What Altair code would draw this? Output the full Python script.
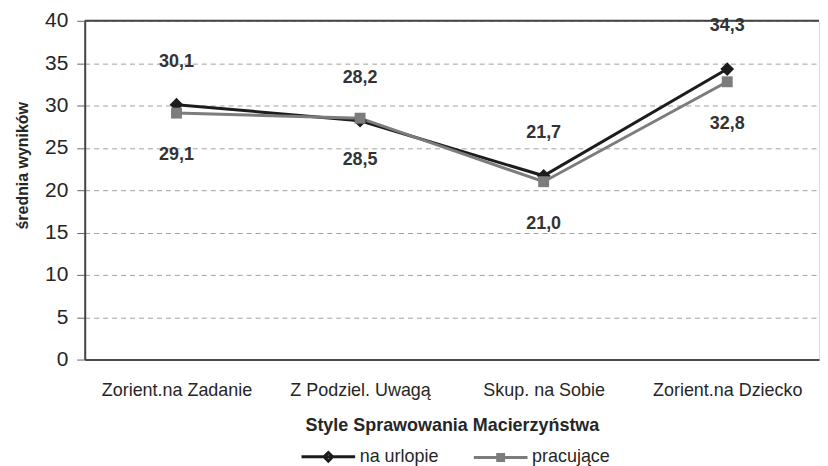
import altair as alt
import pandas as pd

categories = ["Zorient.na Zadanie", "Z Podziel. Uwagą", "Skup. na Sobie", "Zorient.na Dziecko"]
series_names = ["na urlopie", "pracujące"]
na_urlopie = [30.1, 28.2, 21.7, 34.3]
pracujace = [29.1, 28.5, 21.0, 32.8]
y_ticks = [0, 5, 10, 15, 20, 25, 30, 35, 40]

rows = []
for i, c in enumerate(categories):
    rows.append({"cat": c, "series": series_names[0], "v": na_urlopie[i]})
    rows.append({"cat": c, "series": series_names[1], "v": pracujace[i]})
df = pd.DataFrame(rows)

FONT = "Liberation Sans"
colors = ["#1c1c1c", "#7c7c7c"]

x_enc = alt.X("cat:N", sort=categories, scale=alt.Scale(domain=categories, paddingOuter=0.5),
              axis=alt.Axis(title="Style Sprawowania Macierzyństwa", labelAngle=0,
                            labelFont=FONT, labelFontSize=18, labelColor="#262626",
                            titleFont=FONT, titleFontSize=18, titleFontWeight="bold",
                            titleColor="#262626", titlePadding=17, labelPadding=22,
                            ticks=False, domainColor="#4a4a4a", domainWidth=2, grid=False))
y_enc = alt.Y("v:Q", scale=alt.Scale(domain=[0, 40], nice=False),
              axis=alt.Axis(title="średnia wyników", values=y_ticks, labelFont=FONT,
                            labelFontSize=21, labelColor="#262626", titleFont=FONT,
                            titleFontSize=16, titleFontWeight="bold", titleColor="#262626",
                            titlePadding=14, titleY=145, tickSize=8, tickColor="#666", labelPadding=9,
                            domainColor="#444", domainWidth=2, grid=True,
                            gridDash=[5, 4], gridColor="#a0a0a0", gridWidth=1))

base = alt.Chart(df)

layers = []
top_rule = alt.Chart(pd.DataFrame({"t": [40]})).mark_rule(color="#444", strokeWidth=2).encode(
    y=alt.Y("t:Q", scale=alt.Scale(domain=[0, 40], nice=False))
)
layers.append(top_rule)

shapes = ["diamond", "square"]
sizes = [190, 120]
for name, col in zip(series_names, colors):
    sub = base.transform_filter(alt.datum.series == name)
    layers.append(sub.mark_line(strokeWidth=3, color=col).encode(x=x_enc, y=y_enc))
for name, col, shp, sz in zip(series_names, colors, shapes, sizes):
    sub = base.transform_filter(alt.datum.series == name)
    layers.append(sub.mark_point(filled=True, opacity=1, shape=shp, size=sz, color=col).encode(x=x_enc, y=y_enc))

lab_expr = "replace(format(datum.v, '.1f'), '.', ',')"
offsets = [-43, 42]
for name, dy in zip(series_names, offsets):
    sub = base.transform_filter(alt.datum.series == name).transform_calculate(lab=lab_expr)
    layers.append(sub.mark_text(font=FONT, fontSize=18, fontWeight="bold", color="#333", dy=dy).encode(
        x=x_enc, y=y_enc, text="lab:N"))

legend_paths = [
    "M-1,0H1M0,-0.16L0.16,0L0,0.16L-0.16,0Z",
    "M-1,0H1M-0.11,-0.11H0.11V0.11H-0.11Z",
]
legend_layer = base.transform_filter("false").mark_point(filled=False, strokeWidth=3, opacity=1).encode(
    x=x_enc, y=y_enc,
    shape=alt.Shape("series:N", scale=alt.Scale(domain=series_names, range=legend_paths),
                    legend=alt.Legend(title=None, orient="none", direction="horizontal",
                                      legendX=216, legendY=409,
                                      labelFont=FONT, labelFontSize=18, labelColor="#262626",
                                      symbolSize=2900, symbolStrokeWidth=3, columnPadding=28,
                                      labelOffset=3)),
    color=alt.Color("series:N", scale=alt.Scale(domain=series_names, range=colors)),
)
layers.append(legend_layer)

chart = alt.layer(*layers).properties(
    width=737, height=340, padding={"left": 6, "top": 1, "right": 0, "bottom": 0}
).configure_view(stroke=None).configure(background="white")

chart.save("out.html", embed_options={"renderer": "svg", "actions": False})
